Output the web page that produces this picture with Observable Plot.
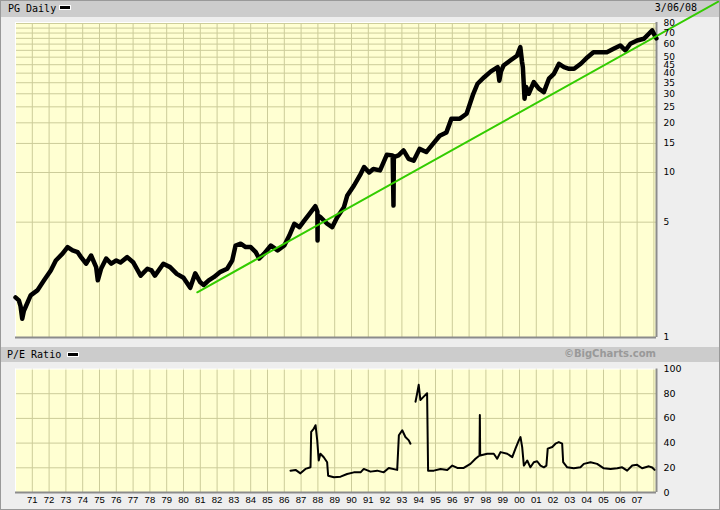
<!DOCTYPE html>
<html>
<head>
<meta charset="utf-8">
<script src="https://cdn.jsdelivr.net/npm/d3@7"></script>
<script src="https://cdn.jsdelivr.net/npm/@observablehq/plot@0.6"></script>
<style>
  body { margin: 0; background: #ffffff; }
  #chart { position: relative; width: 720px; height: 510px; background: #EEEEEE; overflow: hidden; }
  .bar { position: absolute; left: 0; width: 720px; background: #CCCCCC; }
  .lbl { position: absolute; font: 10px "DejaVu Sans Mono", monospace; line-height: 10px; color: #000; white-space: nowrap; }
  .sw { position: absolute; width: 10px; height: 3px; background: #000; border: 1px solid #fff; }
  .brand { position: absolute; font: bold 10px "DejaVu Sans", sans-serif; line-height: 10px; color: #999999; white-space: nowrap; }
  #chart svg { position: absolute; left: 0; }
  .border { position: absolute; left: 0; top: 0; width: 720px; height: 510px; box-sizing: border-box; border: 1px solid #999; pointer-events: none; }
</style>
</head>
<body>
<div id="chart">
  <div class="bar" style="top:0;height:17px"></div>
  <div class="lbl" style="left:8px;top:4px">PG Daily</div>
  <div class="sw" style="left:59px;top:5px"></div>
  <div class="lbl" style="right:23px;top:3px">3/06/08</div>
  <div class="bar" style="top:347px;height:15px"></div>
  <div class="lbl" style="left:7px;top:350px">P/E Ratio</div>
  <div class="sw" style="left:67px;top:352px"></div>
  <div class="brand" style="right:64px;top:349px">©BigCharts.com</div>
</div>
<script>
// ---------- data ----------
const xDomain = [1970, 2008.155];
const gridYears = d3.range(1971, 2009);
const labelYears = d3.range(1971, 2008);

const priceDomain = [1, 81.1];
const priceGrid = [5, 10, 15, 20, 25, 30, 35, 40, 45, 50, 55, 60, 65, 70, 75, 80];
const priceLabels = [1, 5, 10, 15, 20, 25, 30, 35, 40, 45, 50, 60, 70, 80];

const priceYears = [
  1970.0, 1970.2, 1970.3, 1970.4, 1970.5, 1970.6, 1970.9, 1971.3, 1971.7, 1972.1,
  1972.4, 1972.8, 1973.1, 1973.4, 1973.7, 1973.9, 1974.2, 1974.5, 1974.8, 1974.9,
  1975.1, 1975.4, 1975.7, 1976.0, 1976.25, 1976.65, 1977.0, 1977.45, 1977.85, 1978.1,
  1978.3, 1978.8, 1979.2, 1979.6, 1980.0, 1980.4, 1980.7, 1981.0, 1981.2, 1981.5,
  1981.8, 1982.2, 1982.6, 1982.9, 1983.1, 1983.4, 1983.7, 1984.0, 1984.3, 1984.5,
  1984.8, 1985.2, 1985.6, 1986.0, 1986.3, 1986.6, 1986.9, 1987.2, 1987.5, 1987.85,
  1987.97, 1987.98, 1987.99, 1988.15, 1988.55, 1988.85, 1989.15, 1989.55, 1989.75, 1990.15,
  1990.55, 1990.75, 1991.05, 1991.3, 1991.7, 1992.1, 1992.45, 1992.5, 1992.52, 1992.8,
  1993.1, 1993.4, 1993.7, 1994.05, 1994.45, 1994.85, 1995.25, 1995.65, 1995.95, 1996.45,
  1996.85, 1997.05, 1997.25, 1997.5, 1997.9, 1998.3, 1998.7, 1998.8, 1998.9, 1999.05,
  1999.45, 1999.85, 2000.05, 2000.15, 2000.2, 2000.3, 2000.4, 2000.55, 2000.85, 2001.15,
  2001.45, 2001.75, 2002.05, 2002.35, 2002.65, 2002.95, 2003.25, 2003.65, 2004.05, 2004.4,
  2004.8, 2005.2, 2005.6, 2006.0, 2006.3, 2006.6, 2007.0, 2007.4, 2007.7, 2007.9,
  2008.05, 2008.15
];
const priceValues = [
  1.75, 1.68, 1.55, 1.30, 1.45, 1.53, 1.80, 1.93, 2.22, 2.55,
  2.93, 3.22, 3.53, 3.37, 3.29, 3.07, 2.80, 3.14, 2.67, 2.22,
  2.62, 3.01, 2.80, 2.93, 2.85, 3.07, 2.86, 2.37, 2.61, 2.55,
  2.37, 2.80, 2.67, 2.43, 2.30, 2.00, 2.45, 2.16, 2.08, 2.22,
  2.32, 2.50, 2.61, 2.93, 3.61, 3.70, 3.53, 3.53, 3.29, 3.01,
  3.22, 3.61, 3.37, 3.61, 4.15, 4.89, 4.66, 5.12, 5.62, 6.25,
  5.80, 3.87, 5.50, 5.36, 4.89, 4.66, 5.36, 6.16, 7.26, 8.34,
  9.82, 10.8, 10.0, 10.5, 10.3, 12.8, 12.7, 6.30, 12.4, 12.7,
  13.6, 12.1, 11.8, 13.9, 13.3, 14.9, 16.7, 17.5, 21.2, 21.2,
  22.7, 26.1, 30.0, 34.5, 37.8, 41.0, 43.5, 36.0, 41.0, 44.5,
  47.7, 51.0, 57.5, 47.0, 43.5, 28.0, 33.0, 30.0, 35.3, 32.2,
  30.7, 37.0, 39.6, 45.6, 43.5, 42.5, 42.5, 45.6, 50.0, 53.6,
  53.6, 53.6, 56.2, 58.9, 54.9, 60.3, 63.1, 64.6, 69.3, 72.6,
  67.6, 65.0
];

const trendYears = [1980.82, 2011.96];
const trendValues = [1.88, 110.3];

const peDomain = [0, 100];
const peGrid = [20, 40, 60, 80];
const peLabels = [0, 20, 40, 60, 80, 100];
const peYears = [
  1986.37, 1986.67, 1986.96, 1987.26, 1987.56, 1987.6, 1987.76, 1987.86, 1987.96, 1988.05,
  1988.15, 1988.35, 1988.55, 1988.61, 1988.95, 1989.35, 1989.74, 1990.14, 1990.54, 1990.73,
  1991.13, 1991.53, 1991.92, 1992.22, 1992.72, 1992.82, 1993.02, 1993.21, 1993.41, 1993.51,
  1993.66,
  1993.81, 1993.91, 1994.0, 1994.1, 1994.3, 1994.5, 1994.56, 1994.9, 1995.3, 1995.7,
  1996.0, 1996.3, 1996.68, 1997.08, 1997.38, 1997.62, 1997.64, 1997.66, 1998.08, 1998.47,
  1998.67, 1998.87, 1999.27, 1999.57, 1999.76, 1999.96, 2000.06, 2000.16, 2000.26, 2000.46,
  2000.65, 2000.85, 2001.05, 2001.25, 2001.45, 2001.6, 2001.68, 2001.95, 2002.14, 2002.34,
  2002.54, 2002.6, 2002.84, 2003.23, 2003.63, 2003.83, 2004.23, 2004.62, 2005.02, 2005.42,
  2005.82, 2006.11, 2006.41, 2006.71, 2007.0, 2007.3, 2007.7, 2007.9, 2008.04
];
const peValues = [
  17.7, 18.3, 15.5, 19.1, 20.4, 49.0, 51.8, 54.5, 42.2, 25.9,
  31.4, 28.6, 24.5, 13.6, 12.3, 12.8, 15.0, 16.3, 16.3, 19.1,
  16.9, 17.7, 16.3, 19.9, 18.3, 46.3, 50.4, 44.9, 42.2, 39.5,
  NaN,
  73.5, 80.4, 87.2, 74.9, 77.6, 80.4, 17.7, 17.7, 19.1, 18.3,
  21.8, 19.9, 19.9, 23.2, 27.3, 30.0, 62.7, 30.0, 31.4, 31.4,
  27.3, 32.7, 31.4, 28.6, 35.5, 42.2, 44.9, 36.8, 21.8, 25.9,
  20.4, 24.5, 25.3, 21.8, 20.4, 21.8, 35.5, 36.8, 39.5, 40.8,
  39.5, 24.5, 20.4, 19.6, 20.4, 23.2, 24.5, 23.2, 19.6, 19.1,
  19.6, 20.4, 17.7, 21.8, 22.4, 19.6, 21.2, 20.2, 18.3
];

// ---------- tables built from the arrays ----------
const priceRows = priceYears.map((t, i) => ({t, v: priceValues[i]}));
const trendRows = trendYears.map((t, i) => ({t, v: trendValues[i]}));
const peRows = peYears.map((t, i) => ({t, v: peValues[i]}));

const yellow = "#FFFFD2";
const gridColor = "#CCCC99";
const shade = "#8C8C8C";

const topChart = Plot.plot({
  width: 720, height: 340,
  marginTop: 22, marginBottom: 3, marginLeft: 15, marginRight: 64,
  style: {background: "transparent", overflow: "visible"},
  x: {type: "linear", domain: xDomain, axis: null},
  y: {type: "log", domain: priceDomain, axis: null},
  marks: [
    Plot.frame({fill: yellow, stroke: "none"}),
    Plot.ruleY(priceGrid, {stroke: gridColor, strokeWidth: 1}),
    Plot.ruleX(gridYears, {stroke: gridColor, strokeWidth: 1}),
    Plot.ruleY([priceDomain[1]], {stroke: "#ffffff", strokeWidth: 1}),
    Plot.ruleX([xDomain[0]], {stroke: "#ffffff", strokeWidth: 1}),
    Plot.ruleY([priceDomain[0]], {stroke: shade, strokeWidth: 2}),
    Plot.ruleX([xDomain[1]], {stroke: shade, strokeWidth: 2}),
    Plot.line(priceRows, {x: "t", y: "v", stroke: "#000", strokeWidth: 4.5, strokeLinejoin: "round"}),
    Plot.line(trendRows, {x: "t", y: "v", stroke: "#33CC00", strokeWidth: 2}),
    Plot.text(priceLabels, {y: d => d, frameAnchor: "right", dx: 7, textAnchor: "start",
      text: d => String(d), fontSize: 9, fontFamily: "DejaVu Sans", fill: "#000"})
  ]
});
topChart.style.top = "0px";

const bottomChart = Plot.plot({
  width: 720, height: 148,
  marginTop: 6.5, marginBottom: 18, marginLeft: 15, marginRight: 64,
  style: {background: "transparent", overflow: "visible"},
  x: {type: "linear", domain: xDomain, axis: null},
  y: {type: "linear", domain: peDomain, axis: null},
  marks: [
    Plot.frame({fill: yellow, stroke: "none"}),
    Plot.ruleY(peGrid, {stroke: gridColor, strokeWidth: 1}),
    Plot.ruleX(gridYears, {stroke: gridColor, strokeWidth: 1}),
    Plot.ruleY([peDomain[1]], {stroke: "#ffffff", strokeWidth: 1}),
    Plot.ruleX([xDomain[0]], {stroke: "#ffffff", strokeWidth: 1}),
    Plot.ruleY([peDomain[0]], {stroke: shade, strokeWidth: 2}),
    Plot.ruleX([xDomain[1]], {stroke: shade, strokeWidth: 2}),
    Plot.line(peRows, {x: "t", y: "v", stroke: "#000", strokeWidth: 2}),
    Plot.text(peLabels, {y: d => d, frameAnchor: "right", dx: 7, textAnchor: "start",
      text: d => String(d), fontSize: 9.5, fontFamily: "DejaVu Sans", fill: "#000"}),
    Plot.text(labelYears, {x: d => d, frameAnchor: "bottom", dy: 4, lineAnchor: "top",
      text: d => String(d % 100).padStart(2, "0"), fontSize: 9.5, fontFamily: "Liberation Sans", fill: "#000"})
  ]
});
bottomChart.style.top = "362px";

const chart = document.getElementById("chart");
chart.appendChild(topChart);
chart.appendChild(bottomChart);
const border = document.createElement("div");
border.className = "border";
chart.appendChild(border);
</script>
</body>
</html>
